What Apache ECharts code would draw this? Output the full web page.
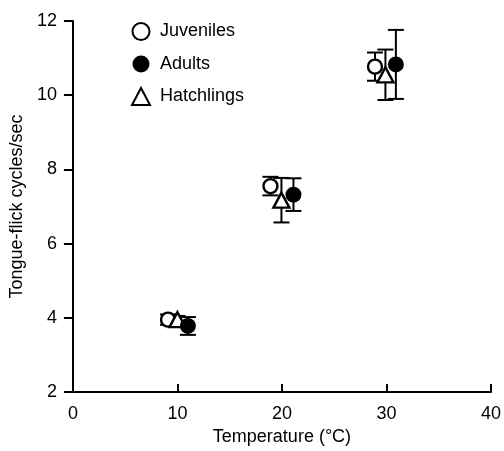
<!DOCTYPE html>
<html>
<head>
<meta charset="utf-8">
<script src="https://cdn.jsdelivr.net/npm/echarts@6/dist/echarts.min.js"></script>
<style>html,body{margin:0;padding:0;background:#fff;}#c{width:504px;height:451px;}</style>
</head>
<body>
<div id="c"></div>
<script>
// Data
const juvTemp = [9.1, 18.9, 28.9];
const juvMean = [3.95, 7.55, 10.77];
const juvErr  = [0.14, 0.25, 0.38];

const adultTemp = [11.0, 21.1, 30.9];
const adultMean = [3.78, 7.32, 10.83];
const adultErr  = [0.24, 0.44, 0.93];

const hatchTemp = [10.0, 19.95, 29.9];
const hatchMean = [3.95, 7.17, 10.55];
const hatchErr  = [0.1, 0.6, 0.68];

const xTicks = [0, 10, 20, 30, 40];
const yTicks = [2, 4, 6, 8, 10, 12];

const FONT = 'Liberation Sans, Arial, Helvetica, sans-serif';

function pts(t, m) { return t.map((v, i) => [v, m[i]]); }
function errs(t, m, e) { return t.map((v, i) => [v, m[i] - e[i], m[i] + e[i]]); }

function errSeries(t, m, e) {
  return {
    type: 'custom',
    silent: true,
    z: 1,
    data: errs(t, m, e),
    renderItem: function (params, api) {
      const x = api.value(0);
      const lo = api.coord([x, api.value(1)]);
      const hi = api.coord([x, api.value(2)]);
      const w = 8;
      const style = { stroke: '#000', lineWidth: 2 };
      return {
        type: 'group',
        children: [
          { type: 'line', shape: { x1: lo[0], y1: lo[1], x2: hi[0], y2: hi[1] }, style: style },
          { type: 'line', shape: { x1: lo[0] - w, y1: lo[1], x2: lo[0] + w, y2: lo[1] }, style: style },
          { type: 'line', shape: { x1: hi[0] - w, y1: hi[1], x2: hi[0] + w, y2: hi[1] }, style: style }
        ]
      };
    }
  };
}

const chart = echarts.init(document.getElementById('c'), null, { renderer: 'canvas' });
chart.setOption({
  animation: false,
  backgroundColor: '#fff',
  grid: { left: 72, right: 9, top: 21, bottom: 59, containLabel: false },
  legend: {
    orient: 'vertical',
    left: 126,
    top: 17,
    itemGap: 14,
    itemWidth: 18,
    itemHeight: 17,
    textStyle: { fontFamily: FONT, fontSize: 18, color: '#000', padding: [0, 0, 0, 5] },
    data: ['Juveniles', 'Adults', 'Hatchlings']
  },
  xAxis: {
    type: 'value',
    min: 0, max: 40, interval: 10,
    name: 'Temperature (°C)',
    nameLocation: 'middle',
    nameGap: 36,
    nameTextStyle: { fontFamily: FONT, fontSize: 18, color: '#000' },
    axisLine: { show: true, onZero: false, lineStyle: { color: '#000', width: 2 } },
    axisTick: { show: true, inside: true, length: 8, lineStyle: { color: '#000', width: 2 } },
    axisLabel: { fontFamily: FONT, fontSize: 18, color: '#000', margin: 13,
      formatter: v => xTicks.includes(v) ? String(v) : '' },
    splitLine: { show: false }
  },
  yAxis: {
    type: 'value',
    min: 2, max: 12, interval: 2,
    name: 'Tongue-flick cycles/sec',
    nameLocation: 'middle',
    nameGap: 45,
    nameTextStyle: { fontFamily: FONT, fontSize: 18, color: '#000' },
    axisLine: { show: true, onZero: false, lineStyle: { color: '#000', width: 2 } },
    axisTick: { show: true, inside: false, length: 9, lineStyle: { color: '#000', width: 2 } },
    axisLabel: { fontFamily: FONT, fontSize: 18, color: '#000', margin: 16,
      formatter: v => yTicks.includes(v) ? String(v) : '' },
    splitLine: { show: false }
  },
  series: [
    errSeries(juvTemp, juvMean, juvErr),
    errSeries(adultTemp, adultMean, adultErr),
    errSeries(hatchTemp, hatchMean, hatchErr),
    {
      name: 'Juveniles', type: 'scatter', z: 3,
      symbol: 'circle', symbolSize: 14,
      itemStyle: { color: '#fff', borderColor: '#000', borderWidth: 2.4, opacity: 1 },
      data: pts(juvTemp, juvMean)
    },
    {
      name: 'Hatchlings', type: 'scatter', z: 4,
      symbol: 'triangle', symbolSize: [16, 15],
      itemStyle: { color: '#fff', borderColor: '#000', borderWidth: 2.4, opacity: 1 },
      data: pts(hatchTemp, hatchMean)
    },
    {
      name: 'Adults', type: 'scatter', z: 5,
      symbol: 'circle', symbolSize: 16,
      itemStyle: { color: '#000', borderColor: '#000', borderWidth: 0, opacity: 1 },
      data: pts(adultTemp, adultMean)
    }
  ]
});
</script>
</body>
</html>
